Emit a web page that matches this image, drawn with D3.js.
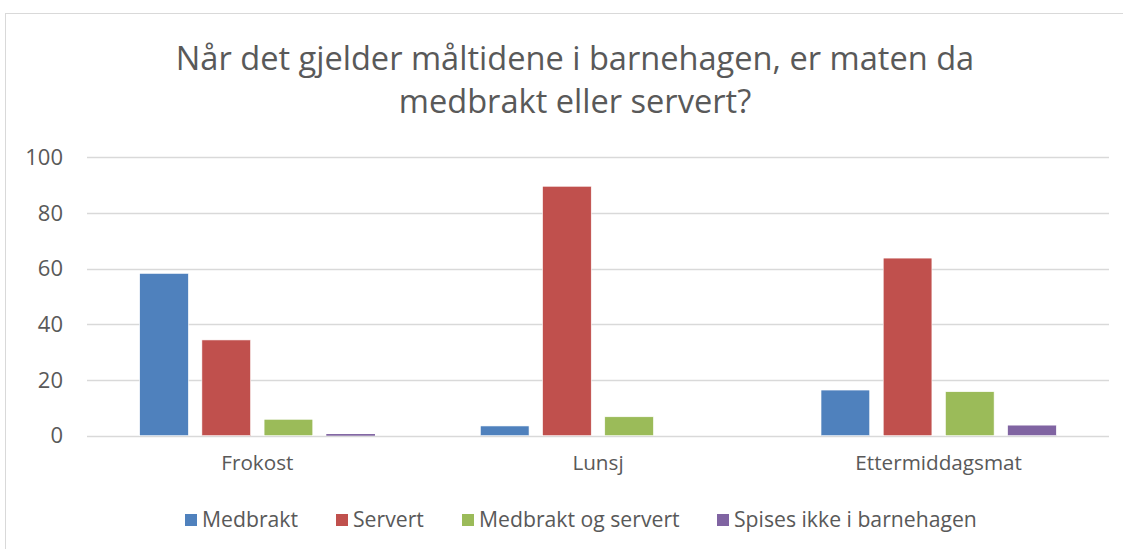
<!DOCTYPE html>
<html>
<head>
<meta charset="utf-8">
<script src="https://cdn.jsdelivr.net/npm/d3@7"></script>
<style>
  body { margin: 0; background: #fff; }
  text { font-family: "Open Sans", sans-serif; fill: #595959; }
</style>
</head>
<body>
<div id="chart"></div>
<script>
// data
const titleLines = ["Når det gjelder måltidene i barnehagen, er maten da", "medbrakt eller servert?"];
const categories = ["Frokost", "Lunsj", "Ettermiddagsmat"];
const seriesNames = ["Medbrakt", "Servert", "Medbrakt og servert", "Spises ikke i barnehagen"];
const medbrakt = [58.3, 3.5, 16.4];
const servert = [34.4, 89.6, 63.8];
const medbraktOgServert = [5.9, 6.8, 15.8];
const spisesIkke = [0.6, 0, 3.8];
const yTicks = [0, 20, 40, 60, 80, 100];
const colors = ["#4f81bd", "#c0504d", "#9bbb59", "#8064a2"];

const allSeries = [medbrakt, servert, medbraktOgServert, spisesIkke];

var width = 1123, height = 549;
var margin = {left: 87, right: 14, top: 157.3, bottom: 113.3};

var svg = d3.select("#chart").append("svg")
    .attr("width", width)
    .attr("height", height);

// chart area border
svg.append("rect")
    .attr("x", 5.5).attr("y", 13.5)
    .attr("width", 1200).attr("height", 600)
    .attr("fill", "none")
    .attr("stroke", "#d9d9d9");

var x = d3.scaleBand()
    .domain(categories)
    .range([margin.left, width - margin.right]);

var x1 = d3.scaleBand()
    .domain(d3.range(seriesNames.length))
    .range([0, x.bandwidth()])
    .paddingInner(0.217)
    .paddingOuter(0.847);

var y = d3.scaleLinear()
    .domain([0, 100])
    .range([height - margin.bottom, margin.top]);

// gridlines
svg.append("g")
    .selectAll("line")
    .data(yTicks)
    .join("line")
    .attr("x1", margin.left)
    .attr("x2", width - margin.right)
    .attr("y1", d => Math.round(y(d)) + 0.5)
    .attr("y2", d => Math.round(y(d)) + 0.5)
    .attr("stroke", "#d9d9d9")
    .attr("stroke-width", 1.3);

// y axis labels
var yAxis = svg.append("g")
    .attr("transform", "translate(" + margin.left + ",0)")
    .call(d3.axisLeft(y).tickValues(yTicks).tickSize(0).tickPadding(24));
yAxis.select(".domain").remove();
yAxis.selectAll("text")
    .attr("font-size", 22)
    .style("font-family", "'Open Sans', sans-serif")
    .attr("fill", "#595959");

// bars
var groups = svg.append("g")
    .selectAll("g")
    .data(categories)
    .join("g")
    .attr("transform", d => "translate(" + x(d) + ",0)");

groups.selectAll("rect")
    .data((c, ci) => allSeries.map((s, si) => ({si: si, v: s[ci]})))
    .join("rect")
    .attr("x", d => x1(d.si))
    .attr("width", x1.bandwidth())
    .attr("y", d => y(d.v))
    .attr("height", d => y(0) - y(d.v))
    .attr("fill", d => colors[d.si])
    .attr("stroke", d => d.v > 2 ? "#fff" : "none")
    .attr("stroke-width", 0.6);

// category labels
var xAxis = svg.append("g")
    .attr("transform", "translate(0," + y(0) + ")")
    .call(d3.axisBottom(x).tickSize(0).tickPadding(20));
xAxis.select(".domain").remove();
xAxis.selectAll("text")
    .attr("font-size", 20.7)
    .style("font-family", "'Open Sans', sans-serif")
    .attr("fill", "#595959");

// title
svg.append("g")
    .selectAll("text")
    .data(titleLines)
    .join("text")
    .attr("x", 575)
    .attr("y", (d, i) => 70 + i * 43)
    .attr("text-anchor", "middle")
    .attr("font-size", 32.6)
    .text(d => d);

// legend
var legendX = [185, 336, 462, 717];
var legend = svg.append("g")
    .selectAll("g")
    .data(seriesNames)
    .join("g")
    .attr("transform", (d, i) => "translate(" + legendX[i] + ",520)");

legend.append("rect")
    .attr("x", 0).attr("y", -6)
    .attr("width", 12).attr("height", 12)
    .attr("fill", (d, i) => colors[i]);

legend.append("text")
    .attr("x", 17)
    .attr("y", 0)
    .attr("dy", "0.35em")
    .attr("font-size", 21.2)
    .text(d => d);
</script>
</body>
</html>
